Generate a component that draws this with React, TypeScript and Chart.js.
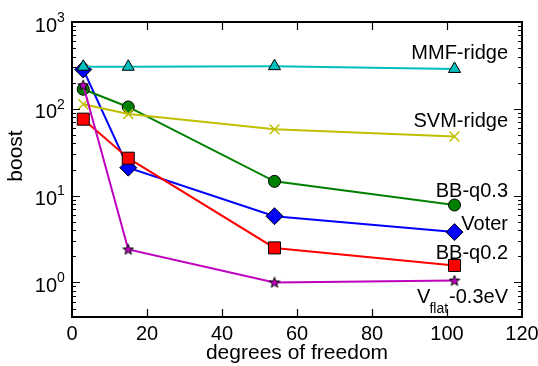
import React, { useEffect, useRef } from "react";
import { Chart, registerables } from "chart.js";

Chart.register(...registerables);

// ---- data ----
const dof = [3, 15, 54, 102];
const seriesNames = ["MMF-ridge", "SVM-ridge", "BB-q0.3", "Voter", "BB-q0.2", "V_flat-0.3eV"];
const mmfRidge = [305, 305, 310, 288];
const svmRidge = [113, 87, 58, 48];
const bbQ03 = [168, 105, 14.6, 7.8];
const voter = [284, 21, 5.8, 3.8];
const bbQ02 = [76, 27, 2.5, 1.57];
const vflat = [187, 2.4, 1.0, 1.05];
const xTicks = [0, 20, 40, 60, 80, 100, 120];
const yTickExps = [0, 1, 2, 3];
const xMin = 0;
const xMax = 120;
const yMin = 0.4;
const yMax = 1000;

const FONT = '"Liberation Sans", Arial, Helvetica, sans-serif';

function makeStar(fill: string): HTMLCanvasElement {
  const c = document.createElement("canvas");
  c.width = 12;
  c.height = 12;
  const g = c.getContext("2d")!;
  const cx = 6, cy = 6.3, R = 5.5, r = 2.3;
  g.beginPath();
  for (let i = 0; i < 10; i++) {
    const rad = i % 2 === 0 ? R : r;
    const a = -Math.PI / 2 + (i * Math.PI) / 5;
    const px = cx + rad * Math.cos(a);
    const py = cy + rad * Math.sin(a);
    if (i === 0) g.moveTo(px, py);
    else g.lineTo(px, py);
  }
  g.closePath();
  g.fillStyle = fill;
  g.fill();
  g.lineWidth = 1;
  g.strokeStyle = "#000";
  g.stroke();
  return c;
}

// label placement relative to the last point of each series (pixels)
const labelBaselineDy = [-10, -9, -8, -2.5, -6.5, 22];

const axesPlugin = {
  id: "mplAxes",
  afterDraw(chart: any) {
    const { ctx, chartArea } = chart;
    const { left, right, top, bottom } = chartArea;
    const xs = chart.scales.x;
    const ys = chart.scales.y;
    ctx.save();
    ctx.strokeStyle = "#000";
    // ticks
    ctx.lineWidth = 1.2;
    ctx.beginPath();
    for (const t of xTicks) {
      const px = Math.round(xs.getPixelForValue(t)) + 0.5;
      if (t === xMin || t === xMax) continue;
      ctx.moveTo(px, bottom);
      ctx.lineTo(px, bottom - 8);
      ctx.moveTo(px, top);
      ctx.lineTo(px, top + 8);
    }
    for (let d = -1; d <= 3; d++) {
      for (let m = 1; m <= 9; m++) {
        const v = m * Math.pow(10, d);
        if (v < yMin || v > yMax) continue;
        const py = Math.round(ys.getPixelForValue(v)) + 0.5;
        const len = m === 1 ? 8 : 4;
        ctx.moveTo(left, py);
        ctx.lineTo(left + len, py);
        ctx.moveTo(right, py);
        ctx.lineTo(right - len, py);
      }
    }
    ctx.stroke();
    // frame
    ctx.lineWidth = 2;
    ctx.strokeRect(left, top, right - left, bottom - top);

    // y tick labels 10^n
    ctx.fillStyle = "#000";
    for (const e of yTickExps) {
      const py = ys.getPixelForValue(Math.pow(10, e));
      ctx.font = `20px ${FONT}`;
      ctx.textAlign = "right";
      ctx.textBaseline = "middle";
      ctx.fillText("10", left - 15, py + 4);
      ctx.font = `14px ${FONT}`;
      ctx.textAlign = "left";
      ctx.fillText(String(e), left - 15, py - 4);
    }

    // y axis title
    ctx.save();
    ctx.translate(16, 156);
    ctx.rotate(-Math.PI / 2);
    ctx.font = `21px ${FONT}`;
    ctx.textAlign = "center";
    ctx.textBaseline = "middle";
    ctx.fillText("boost", 0, 0);
    ctx.restore();

    // series labels
    const rx = right - 14;
    chart.data.datasets.forEach((ds: any, i: number) => {
      const meta = chart.getDatasetMeta(i);
      const last = meta.data[meta.data.length - 1];
      const by = last.y + labelBaselineDy[i];
      const name: string = seriesNames[i];
      ctx.textBaseline = "alphabetic";
      if (name.includes("_")) {
        const [main, rest] = name.split("_");
        const sub = rest.split("-")[0];
        const tail = rest.slice(sub.length);
        ctx.font = `20px ${FONT}`;
        const wMain = ctx.measureText(main).width;
        const wTail = ctx.measureText(tail).width;
        ctx.font = `14px ${FONT}`;
        const wSub = ctx.measureText(sub).width;
        let x = rx - wMain - wSub - wTail;
        ctx.textAlign = "left";
        ctx.font = `20px ${FONT}`;
        ctx.fillText(main, x, by);
        x += wMain - 1;
        ctx.font = `14px ${FONT}`;
        ctx.fillText(sub, x, by + 10);
        x += wSub + 1;
        ctx.font = `20px ${FONT}`;
        ctx.fillText(tail, x, by);
      } else {
        ctx.font = `20px ${FONT}`;
        ctx.textAlign = "right";
        ctx.fillText(name, rx, by);
      }
    });
    ctx.restore();
  },
};

export default function App() {
  const ref = useRef<HTMLCanvasElement | null>(null);
  useEffect(() => {
    if (!ref.current) return;
    const pts = (arr: number[]) => arr.map((y, i) => ({ x: dof[i], y }));
    const star = makeStar("#bf00bf");
    const chart = new Chart(ref.current, {
      type: "line",
      data: {
        datasets: [
          {
            label: seriesNames[0],
            data: pts(mmfRidge),
            order: 1,
            borderColor: "#00bfbf",
            backgroundColor: "#00bfbf",
            pointBorderColor: "#000",
            pointBorderWidth: 1,
            pointStyle: "triangle",
            pointRadius: 7,
            borderWidth: 2,
          },
          {
            label: seriesNames[1],
            data: pts(svmRidge),
            order: 3,
            borderColor: "#bfbf00",
            backgroundColor: "#bfbf00",
            pointBorderColor: "#bfbf00",
            pointBorderWidth: 1.5,
            pointStyle: "crossRot",
            pointRadius: 7,
            borderWidth: 2,
          },
          {
            label: seriesNames[2],
            data: pts(bbQ03),
            order: 4,
            borderColor: "#008000",
            backgroundColor: "#008000",
            pointBorderColor: "#000",
            pointBorderWidth: 1,
            pointStyle: "circle",
            pointRadius: 6,
            borderWidth: 2,
          },
          {
            label: seriesNames[3],
            data: pts(voter),
            order: 5,
            borderColor: "#0000ff",
            backgroundColor: "#0000ff",
            pointBorderColor: "#000",
            pointBorderWidth: 1,
            pointStyle: "rectRot",
            pointRadius: 8.5,
            borderWidth: 2,
          },
          {
            label: seriesNames[4],
            data: pts(bbQ02),
            order: 2,
            borderColor: "#ff0000",
            backgroundColor: "#ff0000",
            pointBorderColor: "#000",
            pointBorderWidth: 1,
            pointStyle: "rect",
            pointRadius: 8.5,
            borderWidth: 2,
          },
          {
            label: seriesNames[5],
            data: pts(vflat),
            order: 0,
            borderColor: "#bf00bf",
            backgroundColor: "#bf00bf",
            pointStyle: star as any,
            pointRadius: 6,
            borderWidth: 2,
          },
        ],
      },
      options: {
        responsive: false,
        animation: false,
        events: [],
        layout: { padding: { left: 0, top: 22, right: 16, bottom: 0 } },
        plugins: { legend: { display: false }, tooltip: { enabled: false } },
        elements: { line: { tension: 0 } },
        scales: {
          x: {
            type: "linear",
            min: xMin,
            max: xMax,
            afterBuildTicks: (s: any) => {
              s.ticks = xTicks.map((v) => ({ value: v }));
            },
            afterFit: (s: any) => {
              s.height = 49;
              s.paddingLeft = 0;
              s.paddingRight = 0;
            },
            grid: { display: false, drawTicks: false },
            border: { display: false },
            ticks: {
              color: "#000",
              font: { family: FONT, size: 20 },
              padding: 5,
              maxRotation: 0,
              autoSkip: false,
            },
            title: {
              display: true,
              text: "degrees of freedom",
              color: "#000",
              font: { family: FONT, size: 21 },
              padding: { top: 0, bottom: 0 },
            },
          },
          y: {
            type: "logarithmic",
            min: yMin,
            max: yMax,
            afterBuildTicks: (s: any) => {
              s.ticks = yTickExps.map((e) => ({ value: Math.pow(10, e) }));
            },
            afterFit: (s: any) => {
              s.width = 72;
              s.paddingTop = 0;
              s.paddingBottom = 0;
            },
            grid: { display: false, drawTicks: false },
            border: { display: false },
            ticks: { display: false },
          },
        },
      },
      plugins: [axesPlugin],
    });
    return () => chart.destroy();
  }, []);
  return (
    <div style={{ position: "fixed", left: 0, top: 0, width: 538, height: 366, background: "#fff" }}>
      <canvas ref={ref} width={538} height={366} style={{ width: 538, height: 366 }} />
    </div>
  );
}
